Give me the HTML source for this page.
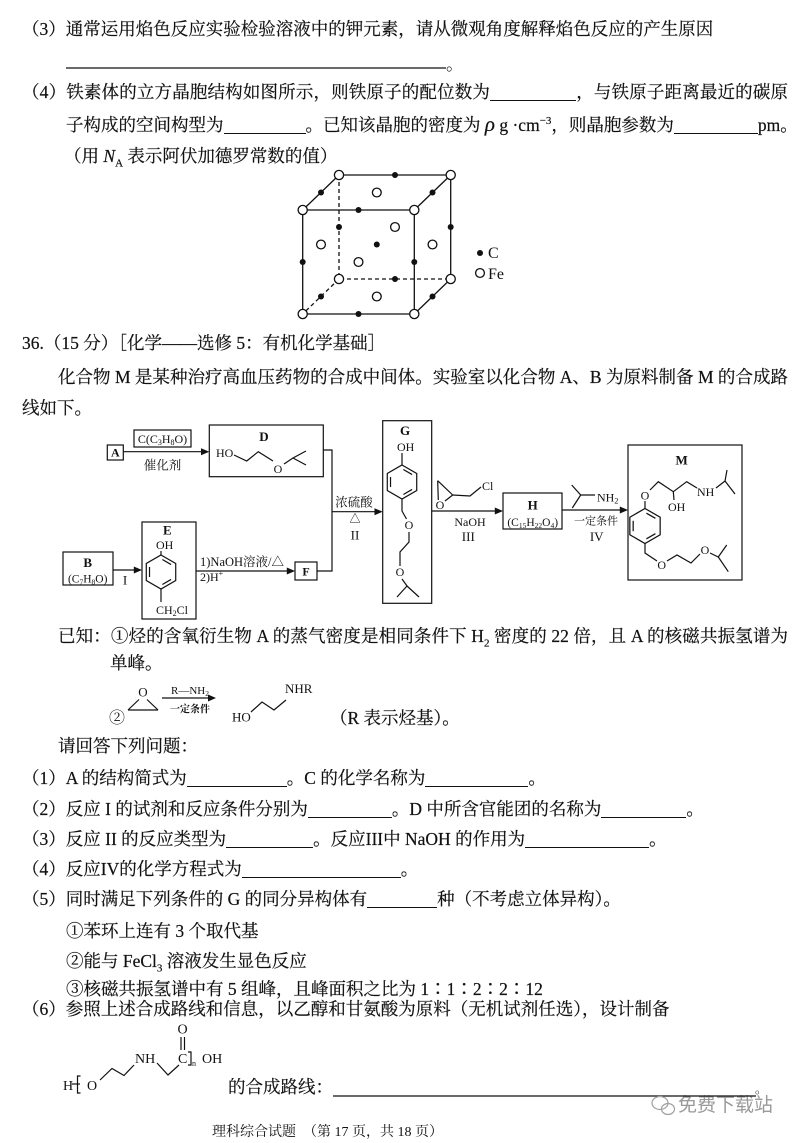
<!DOCTYPE html>
<html><head><meta charset="utf-8">
<style>
html,body{margin:0;padding:0;background:#fff;}
body{width:800px;height:1141px;position:relative;overflow:hidden;}
.t{position:absolute;white-space:nowrap;font-family:"Liberation Serif","Noto Serif CJK SC",serif;font-size:17.5px;line-height:20px;color:#111;-webkit-text-stroke:0.2px #111;}
.j{text-align:justify;text-align-last:justify;}
.u{display:inline-block;border-bottom:1.3px solid #111;height:14px;vertical-align:-3px;}
sub,sup{font-size:11px;line-height:0;}
svg{position:absolute;left:0;top:0;}
</style></head><body>

<div class="t" style="left:22px;top:19px">（3）通常运用焰色反应实验检验溶液中的钾元素，请从微观角度解释焰色反应的产生原因</div>
<div class="t j" style="left:22px;top:82px;width:766px">（4）铁素体的立方晶胞结构如图所示，则铁原子的配位数为<span class="u" style="width:86px"></span>，与铁原子距离最近的碳原</div>
<div class="t j" style="left:66px;top:114px;width:724px">子构成的空间构型为<span class="u" style="width:82px"></span>。已知该晶胞的密度为 <i style="font-size:21px">ρ</i> g ·cm<sup>−3</sup>，则晶胞参数为<span class="u" style="width:84px"></span>pm。</div>
<div class="t" style="left:64px;top:146px">（用 <i>N</i><sub>A</sub> 表示阿伏加德罗常数的值）</div>

<div class="t" style="left:22px;top:333px">36.（15 分）［化学——选修 5：有机化学基础］</div>
<div class="t j" style="left:58px;top:367px;width:730px">化合物 M 是某种治疗高血压药物的合成中间体。实验室以化合物 A、B 为原料制备 M 的合成路</div>
<div class="t" style="left:22px;top:398px">线如下。</div>

<div class="t j" style="left:58px;top:626px;width:730px">已知：①烃的含氧衍生物 A 的蒸气密度是相同条件下 H<sub>2</sub> 密度的 22 倍，且 A 的核磁共振氢谱为</div>
<div class="t" style="left:110px;top:653px">单峰。</div>
<div class="t" style="left:330px;top:708px">（R 表示烃基）。</div>
<div class="t" style="left:58px;top:736px">请回答下列问题：</div>
<div class="t" style="left:22px;top:768px">（1）A 的结构简式为<span class="u" style="width:100px"></span>。C 的化学名称为<span class="u" style="width:103px"></span>。</div>
<div class="t" style="left:22px;top:799px">（2）反应 I 的试剂和反应条件分别为<span class="u" style="width:84px"></span>。D 中所含官能团的名称为<span class="u" style="width:85px"></span>。</div>
<div class="t" style="left:22px;top:829px">（3）反应 II 的反应类型为<span class="u" style="width:87px"></span>。反应III中 NaOH 的作用为<span class="u" style="width:124px"></span>。</div>
<div class="t" style="left:22px;top:859px">（4）反应IV的化学方程式为<span class="u" style="width:159px"></span>。</div>
<div class="t" style="left:22px;top:889px">（5）同时满足下列条件的 G 的同分异构体有<span class="u" style="width:70px"></span>种（不考虑立体异构）。</div>
<div class="t" style="left:66px;top:921px">①苯环上连有 3 个取代基</div>
<div class="t" style="left:66px;top:951px">②能与 FeCl<sub>3</sub> 溶液发生显色反应</div>
<div class="t" style="left:66px;top:979px">③核磁共振氢谱中有 5 组峰，且峰面积之比为 1∶1∶2∶2∶12</div>
<div class="t" style="left:22px;top:999px">（6）参照上述合成路线和信息，以乙醇和甘氨酸为原料（无机试剂任选），设计制备</div>
<div class="t" style="left:228px;top:1077px">的合成路线：</div>
<div class="t" style="left:212px;top:1123px;font-size:14px;-webkit-text-stroke:0">理科综合试题　（第 17 页，共 18 页）</div>
<div class="t" style="left:678px;top:1096px;font-size:19px;color:#9a9a9a;-webkit-text-stroke:0;font-family:'Liberation Sans','Noto Sans CJK SC',sans-serif">免费下载站</div>

<svg width="800" height="1141" viewBox="0 0 800 1141" font-family="'Liberation Serif','Noto Serif CJK SC',serif" fill="#111">
<!-- line 2 -->
<line x1="66" y1="68" x2="446" y2="68" stroke="#111" stroke-width="1.3"/>
<text x="446" y="70" font-size="17.5">。</text>

<!-- cube -->
<g stroke="#111" stroke-width="1.3" fill="none">
<path d="M302.7,210 H414.3 V314 H302.7 Z"/>
<path d="M302.7,210 L339,175 H450.7 L414.3,210"/>
<path d="M450.7,175 V279 L414.3,314"/>
<path d="M339,175 V279 H450.7 M339,279 L302.7,314" stroke-dasharray="4,3"/>
</g>
<g stroke="#111" stroke-width="1.3" fill="#fff">
<circle cx="302.7" cy="210" r="4.6"/><circle cx="414.3" cy="210" r="4.6"/>
<circle cx="414.3" cy="314" r="4.6"/><circle cx="302.7" cy="314" r="4.6"/>
<circle cx="339" cy="175" r="4.6"/><circle cx="450.7" cy="175" r="4.6"/>
<circle cx="450.7" cy="279" r="4.6"/><circle cx="339" cy="279" r="4.6"/>
<circle cx="376.8" cy="192.5" r="4.4"/><circle cx="358.5" cy="262" r="4.4"/>
<circle cx="395" cy="227" r="4.4"/><circle cx="321" cy="244.5" r="4.4"/>
<circle cx="432.5" cy="244.5" r="4.4"/><circle cx="376.8" cy="296.5" r="4.4"/>
<circle cx="480" cy="273" r="4.4"/>
</g>
<g fill="#111">
<circle cx="395" cy="175" r="3"/><circle cx="321" cy="192.5" r="3"/>
<circle cx="432.5" cy="192.5" r="3"/><circle cx="358.5" cy="210" r="3"/>
<circle cx="339" cy="227" r="3"/><circle cx="450.7" cy="227" r="3"/>
<circle cx="302.7" cy="262" r="3"/><circle cx="414.3" cy="262" r="3"/>
<circle cx="395" cy="279" r="3"/><circle cx="321" cy="296.5" r="3"/>
<circle cx="432.5" cy="296.5" r="3"/><circle cx="358.5" cy="314" r="3"/>
<circle cx="376.8" cy="244.5" r="3"/>
<circle cx="480" cy="253" r="3"/>
</g>
<text x="488" y="258" font-size="16">C</text>
<text x="488" y="279" font-size="16">Fe</text>

<!-- scheme boxes and connectors -->
<g stroke="#111" stroke-width="1.2" fill="none">
<rect x="107.3" y="445" width="16" height="15"/>
<rect x="134" y="430" width="57" height="17"/>
<rect x="209.3" y="425" width="114" height="51.7"/>
<rect x="382.7" y="420.7" width="49" height="182.6"/>
<rect x="503" y="493" width="59" height="36"/>
<rect x="628" y="445" width="114" height="135"/>
<rect x="142" y="522" width="54" height="97"/>
<rect x="63" y="552" width="50" height="33"/>
<rect x="295" y="562" width="22" height="18"/>
<line x1="123.3" y1="451.7" x2="203" y2="451.7"/>
<polyline points="323.3,450 332,450 332,571 317,571"/>
<line x1="332" y1="511.7" x2="377" y2="511.7"/>
<line x1="431.7" y1="511" x2="497" y2="511"/>
<line x1="562" y1="510" x2="622" y2="510"/>
<line x1="113" y1="570" x2="136" y2="570"/>
<line x1="196" y1="571" x2="289" y2="571"/>
</g>
<g fill="#111">
<polygon points="209.3,451.7 201,448.2 201,455.2"/>
<polygon points="382.7,511.7 374.5,508.2 374.5,515.2"/>
<polygon points="503,511 494.8,507.5 494.8,514.5"/>
<polygon points="628,510 619.8,506.5 619.8,513.5"/>
<polygon points="142,570 133.8,566.5 133.8,573.5"/>
<polygon points="295,571 286.8,567.5 286.8,574.5"/>
</g>

<!-- scheme labels -->
<text x="115.3" y="456.5" font-size="12" font-weight="bold" text-anchor="middle">A</text>
<text x="162.5" y="443" font-size="12" text-anchor="middle">C(C<tspan font-size="8" dy="2">3</tspan><tspan dy="-2">H</tspan><tspan font-size="8" dy="2">8</tspan><tspan dy="-2">O)</tspan></text>
<text x="162.5" y="469.5" font-size="12.5" text-anchor="middle">催化剂</text>
<text x="264" y="441" font-size="13" font-weight="bold" text-anchor="middle">D</text>
<text x="216" y="457" font-size="12">HO</text>
<text x="278" y="473" font-size="12" text-anchor="middle">O</text>
<text x="354" y="506.5" font-size="12.5" text-anchor="middle">浓硫酸</text>
<text x="355" y="522" font-size="11" text-anchor="middle">△</text>
<text x="355" y="539.5" font-size="13" text-anchor="middle">II</text>
<text x="405" y="435" font-size="13" font-weight="bold" text-anchor="middle">G</text>
<text x="397" y="451" font-size="12">OH</text>
<text x="409" y="529" font-size="12" text-anchor="middle">O</text>
<text x="400" y="576" font-size="12" text-anchor="middle">O</text>
<text x="440" y="509" font-size="12" text-anchor="middle">O</text>
<text x="482" y="490" font-size="12">Cl</text>
<text x="470" y="526" font-size="12" text-anchor="middle">NaOH</text>
<text x="468.3" y="541" font-size="13" text-anchor="middle">III</text>
<text x="532.7" y="509.5" font-size="13" font-weight="bold" text-anchor="middle">H</text>
<text x="532.7" y="526" font-size="11.5" text-anchor="middle">(C<tspan font-size="7.5" dy="2">15</tspan><tspan dy="-2">H</tspan><tspan font-size="7.5" dy="2">22</tspan><tspan dy="-2">O</tspan><tspan font-size="7.5" dy="2">4</tspan><tspan dy="-2">)</tspan></text>
<text x="597" y="501.5" font-size="12">NH<tspan font-size="8" dy="2">2</tspan></text>
<text x="596" y="524.5" font-size="11" text-anchor="middle">一定条件</text>
<text x="596.7" y="541" font-size="13" text-anchor="middle">IV</text>
<text x="681.7" y="464.5" font-size="13" font-weight="bold" text-anchor="middle">M</text>
<text x="645" y="499.5" font-size="12" text-anchor="middle">O</text>
<text x="697" y="496" font-size="12">NH</text>
<text x="668" y="511" font-size="12">OH</text>
<text x="661.7" y="569" font-size="12" text-anchor="middle">O</text>
<text x="705" y="554" font-size="12" text-anchor="middle">O</text>
<text x="167.3" y="534.5" font-size="13" font-weight="bold" text-anchor="middle">E</text>
<text x="156" y="549" font-size="12">OH</text>
<text x="156" y="614" font-size="12">CH<tspan font-size="8" dy="2">2</tspan><tspan dy="-2">Cl</tspan></text>
<text x="87.7" y="567" font-size="13" font-weight="bold" text-anchor="middle">B</text>
<text x="87.7" y="582.5" font-size="11.5" text-anchor="middle">(C<tspan font-size="7.5" dy="2">7</tspan><tspan dy="-2">H</tspan><tspan font-size="7.5" dy="2">8</tspan><tspan dy="-2">O)</tspan></text>
<text x="125" y="584.5" font-size="13" text-anchor="middle">I</text>
<text x="200" y="566" font-size="12.5">1)NaOH溶液/△</text>
<text x="200" y="581" font-size="12">2)H<tspan font-size="8" dy="-5">+</tspan></text>
<text x="306" y="575.5" font-size="12" font-weight="bold" text-anchor="middle">F</text>

<!-- structures -->
<g stroke="#111" stroke-width="1.2" fill="none">
<!-- D -->
<polyline points="234,455 246.7,461 258.3,451.7 273,461"/>
<polyline points="284,464 293,458 306,451"/>
<line x1="293" y1="458" x2="306" y2="465"/>
<!-- G -->
<line x1="402" y1="453" x2="402" y2="465"/>
<g transform="translate(402,482)">
<polygon points="0,-17 14.72,-8.5 14.72,8.5 0,17 -14.72,8.5 -14.72,-8.5"/>
<line x1="1.38" y1="-12.46" x2="10.1" y2="-7.43"/><line x1="10.1" y1="7.43" x2="1.38" y2="12.46"/><line x1="-11.48" y1="5.04" x2="-11.48" y2="-5.04"/>
</g>
<polyline points="402,499 402,511 406.5,519"/>
<polyline points="409,532 409,542 400,552 400,566"/>
<polyline points="402,579 407,586 397,597"/>
<line x1="407" y1="586" x2="419" y2="597"/>
<!-- epoxide -->
<line x1="437.7" y1="480.7" x2="452.7" y2="495"/>
<line x1="437.7" y1="480.7" x2="438.3" y2="500"/>
<line x1="452.7" y1="495" x2="445" y2="501"/>
<polyline points="452.7,495 470,496 481,487"/>
<!-- amine -->
<polyline points="571.7,485 580.7,495 595,495"/>
<line x1="580.7" y1="495" x2="572.3" y2="508"/>
<!-- M -->
<line x1="645" y1="508.5" x2="645" y2="501"/>
<g transform="translate(645,526) scale(1.03)">
<polygon points="0,-17 14.72,-8.5 14.72,8.5 0,17 -14.72,8.5 -14.72,-8.5"/>
<line x1="1.38" y1="-12.46" x2="10.1" y2="-7.43"/><line x1="10.1" y1="7.43" x2="1.38" y2="12.46"/><line x1="-11.48" y1="5.04" x2="-11.48" y2="-5.04"/>
</g>
<polyline points="650,490 658.3,481.7 673.3,491.7 686.7,481.7 697,488"/>
<line x1="673.3" y1="491.7" x2="674" y2="500"/>
<polyline points="716,488 725,481 727,470"/>
<line x1="725" y1="481" x2="735" y2="494"/>
<polyline points="645,543.5 645,553 657,561"/>
<polyline points="667,561 677,555 691,563 700,554"/>
<polyline points="710,553 718.3,557 726.7,545"/>
<line x1="718.3" y1="557" x2="728.3" y2="571.7"/>
<!-- E -->
<line x1="161" y1="551" x2="161" y2="555"/>
<g transform="translate(161,572)">
<polygon points="0,-17 14.72,-8.5 14.72,8.5 0,17 -14.72,8.5 -14.72,-8.5"/>
<line x1="1.38" y1="-12.46" x2="10.1" y2="-7.43"/><line x1="10.1" y1="7.43" x2="1.38" y2="12.46"/><line x1="-11.48" y1="5.04" x2="-11.48" y2="-5.04"/>
</g>
<line x1="161" y1="589" x2="161" y2="602"/>

<!-- reaction 2 -->
<line x1="128" y1="710" x2="158" y2="710"/>
<line x1="128" y1="710" x2="139" y2="699.5"/>
<line x1="158" y1="710" x2="147" y2="699.5"/>
<line x1="162" y1="698" x2="210" y2="698"/>
<polyline points="251,712 262,702 274,710 286,700"/>

<!-- (6) structure -->
<line x1="72" y1="1084" x2="80" y2="1084"/>
<path d="M80.5,1076 H77.5 V1093 H80.5"/>
<polyline points="100,1080 112,1068.5 124,1075.5 134,1065"/>
<polyline points="157,1063 168,1075 179,1065"/>
<line x1="181" y1="1050" x2="181" y2="1037"/>
<line x1="184.5" y1="1050" x2="184.5" y2="1037"/>
<path d="M188,1052 H191 V1065 H188"/>
<line x1="333" y1="1096" x2="756" y2="1096" stroke-width="1.3"/>
</g>
<polygon points="216,698 208,694.5 208,701.5" fill="#111"/>
<text x="109" y="723" font-size="16">②</text>
<text x="143" y="696.5" font-size="13" text-anchor="middle">O</text>
<text x="190" y="694" font-size="11" text-anchor="middle">R—NH<tspan font-size="7.5" dy="2">2</tspan></text>
<text x="190" y="712.5" font-size="10" font-weight="bold" text-anchor="middle">一定条件</text>
<text x="232" y="721.5" font-size="13">HO</text>
<text x="285" y="693" font-size="13">NHR</text>

<text x="63" y="1090" font-size="14">H</text>
<text x="87" y="1090" font-size="14">O</text>
<text x="135" y="1063" font-size="14">NH</text>
<text x="178" y="1063" font-size="14">C</text>
<text x="177.5" y="1033.5" font-size="14">O</text>
<text x="192" y="1066" font-size="8">n</text>
<text x="202" y="1063" font-size="14">OH</text>
<text x="755" y="1093" font-size="12">。</text>

<!-- watermark icon -->
<g stroke="#a0a0a0" stroke-width="1.2" fill="none">
<ellipse cx="660" cy="1103" rx="8" ry="6.5"/>
<ellipse cx="668" cy="1109" rx="6.5" ry="5.5"/>
</g>
</svg>
</body></html>
